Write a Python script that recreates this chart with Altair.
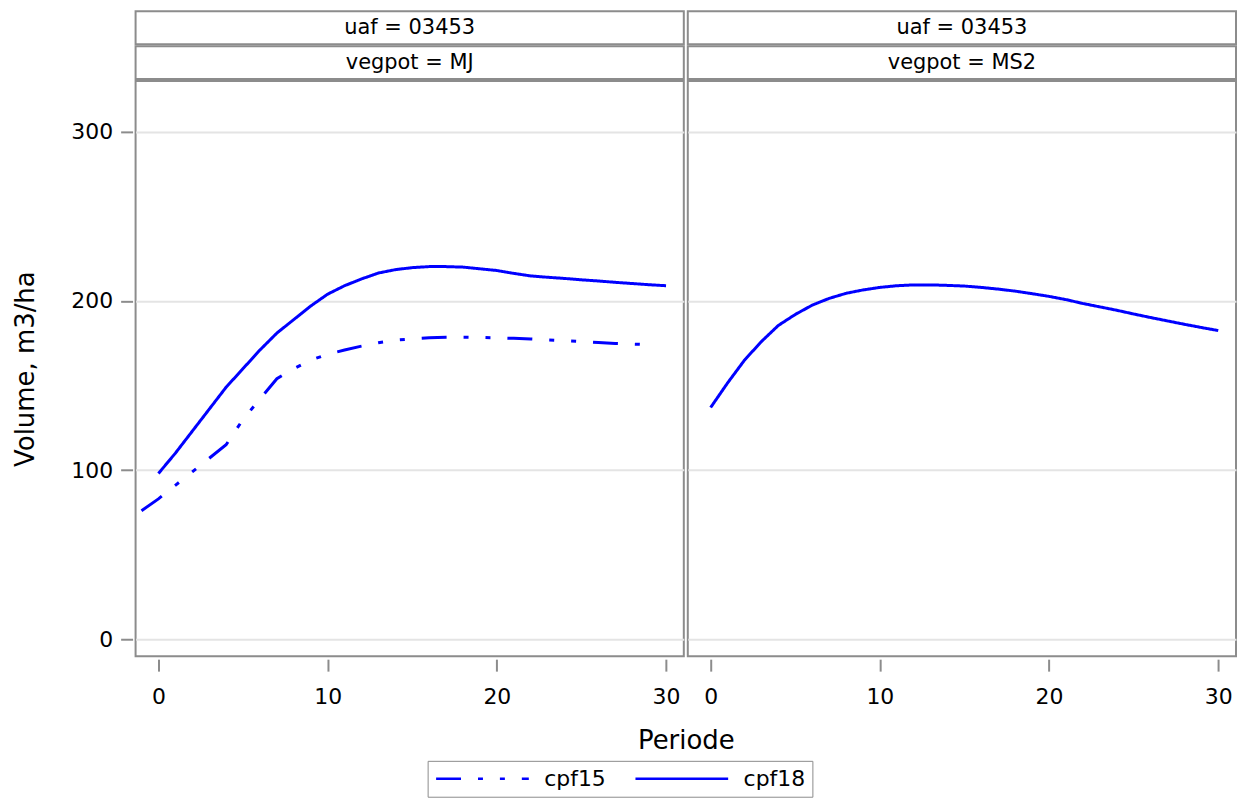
import altair as alt
import pandas as pd

FONT = "DejaVu Sans"

uaf = "03453"
vegpots = ["MJ", "MS2"]
series = ["cpf15", "cpf18"]

periode_cpf15_mj = list(range(-1, 30))
volume_cpf15_mj = [76, 83, 91, 99, 107, 115, 130, 142, 154, 160, 165, 168.5, 171,
                   173.3, 175.3, 176.8, 177.6, 178.2, 178.5, 178.6, 178.5, 178.2,
                   177.9, 177.5, 177, 176.5, 176, 175.4, 174.9, 174.5, 174.2]

periode_cpf18_mj = list(range(0, 31))
volume_cpf18_mj = [98, 110, 123, 136, 149, 160, 171, 181, 189, 197, 204, 209, 213,
                   216.5, 218.5, 219.7, 220.3, 220.3, 220, 219, 218, 216.3, 214.8,
                   214, 213.3, 212.5, 211.8, 211, 210.3, 209.6, 209]

periode_cpf18_ms2 = list(range(0, 31))
volume_cpf18_ms2 = [137, 151.5, 165, 176, 185.5, 192, 197.5, 201.5, 204.5, 206.5,
                    208, 209, 209.5, 209.5, 209.2, 208.8, 208, 207, 205.8, 204.3,
                    202.7, 200.8, 198.5, 196.5, 194.5, 192.3, 190.2, 188.2, 186.2,
                    184.3, 182.5]

rows = []
for p, v in zip(periode_cpf15_mj, volume_cpf15_mj):
    rows.append({"Periode": p, "Volume": v, "serie": "cpf15", "vegpot": "MJ"})
for p, v in zip(periode_cpf18_mj, volume_cpf18_mj):
    rows.append({"Periode": p, "Volume": v, "serie": "cpf18", "vegpot": "MJ"})
for p, v in zip(periode_cpf18_ms2, volume_cpf18_ms2):
    rows.append({"Periode": p, "Volume": v, "serie": "cpf18", "vegpot": "MS2"})
df = pd.DataFrame(rows)

GRAY = "#8c8c8c"
PW = 550
PH = 577
HH = 33

x_scale = alt.Scale(domain=[-1.35, 31.05], nice=False, zero=False)
y_scale = alt.Scale(domain=[-10, 330], nice=False, zero=False)
color_scale = alt.Scale(domain=series, range=["#0000ff", "#0000ff"])
dash_scale = alt.Scale(domain=series, range=[[25, 17, 5, 17, 5, 17], [1, 0]])

legend = alt.Legend(title=None, orient="none", legendX=293, legendY=752,
                    direction="horizontal", columns=2,
                    symbolType="stroke", symbolSize=8650, symbolStrokeWidth=2.5,
                    clipHeight=22,
                    labelFontSize=22, labelFont=FONT, labelColor="black",
                    strokeColor=GRAY, padding=7, columnPadding=28, labelOffset=14)


def x_axis(first):
    kw = dict(values=[0, 10, 20, 30], grid=False, domain=False, tickSize=12,
              tickWidth=2, tickColor=GRAY, offset=3, labelFontSize=22,
              labelFont=FONT, labelColor="black", labelPadding=15)
    if first:
        kw.update(title="Periode", titleFontSize=26, titleFont=FONT,
                  titleFontWeight="normal", titleColor="black", titlePadding=21,
                  titleX=552)
    else:
        kw.update(title=None)
    return alt.Axis(**kw)


def y_axis(first):
    kw = dict(values=[0, 100, 200, 300], grid=True, gridColor="#e4e4e4",
              gridWidth=2, domain=False)
    if first:
        kw.update(tickSize=12, tickWidth=2, tickColor=GRAY, offset=3,
                  labelFontSize=22, labelFont=FONT, labelColor="black",
                  labelPadding=8, title="Volume, m3/ha", titleFontSize=26,
                  titleFont=FONT, titleFontWeight="normal", titleColor="black",
                  titlePadding=32)
    else:
        kw.update(labels=False, ticks=False, title=None)
    return alt.Axis(**kw)


def header(label):
    base = alt.Chart(pd.DataFrame({"label": [label]}))
    box = base.mark_rect(fill="white", stroke=GRAY, strokeWidth=2)
    txt = base.mark_text(font=FONT, fontSize=21, color="black").encode(text="label:N")
    return alt.layer(box, txt).properties(width=PW, height=HH)


def plot(veg, first):
    d = df[df.vegpot == veg]
    return alt.Chart(d).mark_line(strokeWidth=3).encode(
        x=alt.X("Periode:Q", scale=x_scale, axis=x_axis(first)),
        y=alt.Y("Volume:Q", scale=y_scale, axis=y_axis(first)),
        color=alt.Color("serie:N", scale=color_scale, legend=legend),
        strokeDash=alt.StrokeDash("serie:N", scale=dash_scale, legend=legend),
    ).properties(width=PW, height=PH)


cells = [
    header(f"uaf = {uaf}"), header(f"uaf = {uaf}"),
    header(f"vegpot = {vegpots[0]}"), header(f"vegpot = {vegpots[1]}"),
    plot(vegpots[0], True), plot(vegpots[1], False),
]

chart = alt.concat(*cells, columns=2, bounds="flush",
                   spacing=alt.RowColnumber(row=2, column=4)).properties(
    padding={"left": 4, "top": 1, "right": 2, "bottom": 0},
    background="white",
).configure_view(stroke=GRAY, strokeWidth=2)

chart.save("out.html", embed_options={"renderer": "svg", "actions": False})
